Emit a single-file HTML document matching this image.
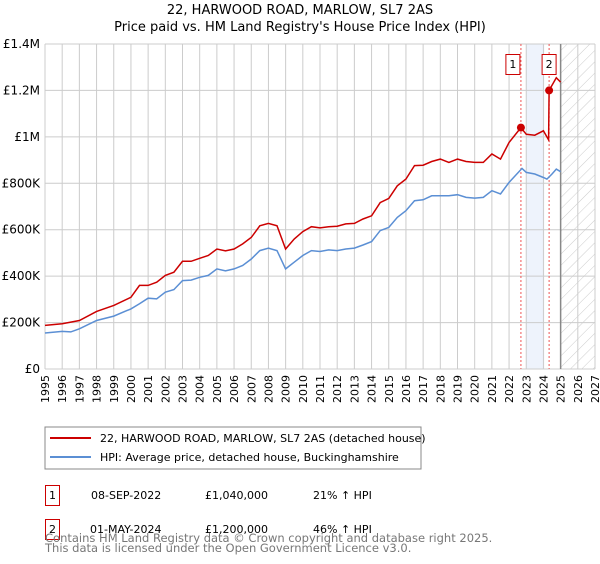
<!DOCTYPE html>
<html><head><meta charset="utf-8"><style>
body{margin:0;background:#fff;font-family:"DejaVu Sans","Liberation Sans",sans-serif;}
svg text{font-family:"DejaVu Sans","Liberation Sans",sans-serif;}
</style></head><body>
<svg id="c" width="600" height="560" xmlns="http://www.w3.org/2000/svg">
<defs><pattern id="hatch" width="8" height="8" patternUnits="userSpaceOnUse" patternTransform="rotate(45)"><line x1="0" y1="0" x2="0" y2="8" stroke="#ccc" stroke-width="1"/></pattern></defs>
<text x="300" y="14" text-anchor="middle" font-size="13">22, HARWOOD ROAD, MARLOW, SL7 2AS</text>
<text x="300" y="31" text-anchor="middle" font-size="13">Price paid vs. HM Land Registry's House Price Index (HPI)</text>
<g id="grid"></g><g id="marks"></g>
<rect x="45" y="427" width="376" height="42" fill="#fff" stroke="#888"/>
<line x1="50" y1="438" x2="91" y2="438" stroke="#cc0000" stroke-width="2"/>
<text x="100" y="442" font-size="11">22, HARWOOD ROAD, MARLOW, SL7 2AS (detached house)</text>
<line x1="50" y1="457" x2="91" y2="457" stroke="#5b8fd4" stroke-width="2"/>
<text x="100" y="461" font-size="11">HPI: Average price, detached house, Buckinghamshire</text>
<g font-size="11">
<rect x="45.5" y="485.5" width="14" height="20" fill="#fff" stroke="#cc0000"/>
<text x="52.5" y="499" text-anchor="middle">1</text>
<text x="91" y="499">08-SEP-2022</text>
<text x="205" y="499">£1,040,000</text>
<text x="313" y="499">21% ↑ HPI</text>
<rect x="45.5" y="519.5" width="14" height="20" fill="#fff" stroke="#cc0000"/>
<text x="52.5" y="533" text-anchor="middle">2</text>
<text x="90" y="533">01-MAY-2024</text>
<text x="205" y="533">£1,200,000</text>
<text x="313" y="533">46% ↑ HPI</text>
</g>
<text x="45" y="542" font-size="11.5" fill="#777">Contains HM Land Registry data © Crown copyright and database right 2025.</text>
<text x="45" y="552" font-size="11.5" fill="#777">This data is licensed under the Open Government Licence v3.0.</text>
</svg>
<script>
const yTicks=[0,200000,400000,600000,800000,1000000,1200000,1400000];
const yTickLabels=["£0","£200K","£400K","£600K","£800K","£1M","£1.2M","£1.4M"];
const years=[1995,1996,1997,1998,1999,2000,2001,2002,2003,2004,2005,2006,2007,2008,2009,2010,2011,2012,2013,2014,2015,2016,2017,2018,2019,2020,2021,2022,2023,2024,2025,2026,2027];
const hpiT=[1995,1996,1996.5,1997,1998,1999,2000,2000.5,2001,2001.5,2002,2002.5,2003,2003.5,2004,2004.5,2005,2005.5,2006,2006.5,2007,2007.5,2008,2008.5,2009,2009.5,2010,2010.5,2011,2011.5,2012,2012.5,2013,2013.5,2014,2014.5,2015,2015.5,2016,2016.5,2017,2017.5,2018,2018.5,2019,2019.5,2020,2020.5,2021,2021.5,2022,2022.75,2023,2023.5,2024,2024.2,2024.5,2024.75,2025];
const hpiV=[155000,162000,160000,173000,209000,228000,259000,281000,305000,302000,331000,342000,381000,383000,395000,403000,431000,423000,431000,446000,474000,510000,521000,510000,431000,460000,489000,510000,506000,513000,510000,517000,521000,534000,549000,596000,610000,653000,682000,725000,729000,746000,746000,746000,751000,739000,736000,739000,768000,754000,804000,864000,847000,840000,825000,818000,840000,861000,850000];
const priceT=[1995,1996,1997,1998,1999,2000,2000.5,2001,2001.5,2002,2002.5,2003,2003.5,2004,2004.5,2005,2005.5,2006,2006.5,2007,2007.5,2008,2008.5,2009,2009.5,2010,2010.5,2011,2011.5,2012,2012.5,2013,2013.5,2014,2014.5,2015,2015.5,2016,2016.5,2017,2017.5,2018,2018.5,2019,2019.5,2020,2020.5,2021,2021.5,2022,2022.69,2023,2023.5,2024,2024.3,2024.33,2024.75,2025];
const priceV=[188000,195000,209000,248000,274000,309000,360000,360000,374000,403000,417000,464000,464000,477000,489000,517000,509000,517000,539000,567000,617000,627000,617000,517000,560000,592000,613000,608000,613000,615000,625000,627000,646000,660000,717000,735000,789000,818000,876000,878000,894000,904000,890000,904000,894000,890000,890000,926000,904000,976000,1040000,1011000,1007000,1026000,987000,1200000,1255000,1236000];
const saleT=[2022.69,2024.33];
const saleV=[1040000,1200000];
const saleLabels=["1","2"];
const X0=45,X1=595,Y0=369,Y1=44;
const xs=t=>X0+(t-1995)/(2027-1995)*(X1-X0);
const ys=v=>Y0-v/1400000*(Y0-Y1);
const NS="http://www.w3.org/2000/svg";
function mk(tag,attrs,parent){const e=document.createElementNS(NS,tag);for(const k in attrs)e.setAttribute(k,attrs[k]);parent.appendChild(e);return e;}
const g=document.getElementById('grid'),m=document.getElementById('marks');
let r=mk('rect',{x:xs(2023),y:Y1,width:xs(2024.05)-xs(2023),height:Y0-Y1,fill:'#eef3fc'},g);


r=mk('rect',{x:xs(2025),y:Y1,width:X1-xs(2025),height:Y0-Y1,fill:'url(#hatch)'},g);


years.forEach(y=>{
 const l=mk('line',{x1:xs(y),x2:xs(y),y1:Y1,y2:Y0,stroke:'#ccc'},g);
 
 
 const t=mk('text',{x:0,y:0,'font-size':11,'text-anchor':'end',transform:`translate(${xs(y)+4},${Y0+6}) rotate(-90)`},g);
 t.textContent=y;
 
 
});
yTicks.forEach((v,i)=>{
 const l=mk('line',{x1:X0,x2:X1,y1:ys(v),y2:ys(v),stroke:'#ccc'},g);
 
 
 const t=mk('text',{x:40,y:ys(v)+4,'font-size':12,'text-anchor':'end'},g);
 t.textContent=yTickLabels[i];
 
 
});
let l=mk('line',{x1:xs(2025),x2:xs(2025),y1:Y1,y2:Y0,stroke:'#888','stroke-width':1.5},g);


saleT.forEach(t=>{
 const d=mk('line',{x1:xs(t),x2:xs(t),y1:Y1,y2:Y0,stroke:'#e55','stroke-dasharray':'2,2'},g);
 
 
});
function path(T,V,color,name){
 const p=mk('path',{d:T.map((t,i)=>(i?'L':'M')+xs(t).toFixed(1)+','+ys(V[i]).toFixed(1)).join(''),fill:'none',stroke:color,'stroke-width':1.5},m);
 
 
}
path(hpiT,hpiV,'#5b8fd4','hpi-line');
path(priceT,priceV,'#cc0000','price-line');
saleT.forEach((t,i)=>{
 const c=mk('circle',{cx:xs(t),cy:ys(saleV[i]),r:4,fill:'#cc0000'},m);
 
 
 const b=mk('rect',{x:(i?xs(t)-7:xs(t)-15).toFixed(1),y:54.5,width:14,height:20,fill:'#fff',stroke:'#cc0000'},m);
 
 
 const tx=mk('text',{x:(i?xs(t):xs(t)-8).toFixed(1),y:68,'font-size':11,'text-anchor':'middle'},m);
 tx.textContent=saleLabels[i];
 
 
});
</script>
</body></html>
